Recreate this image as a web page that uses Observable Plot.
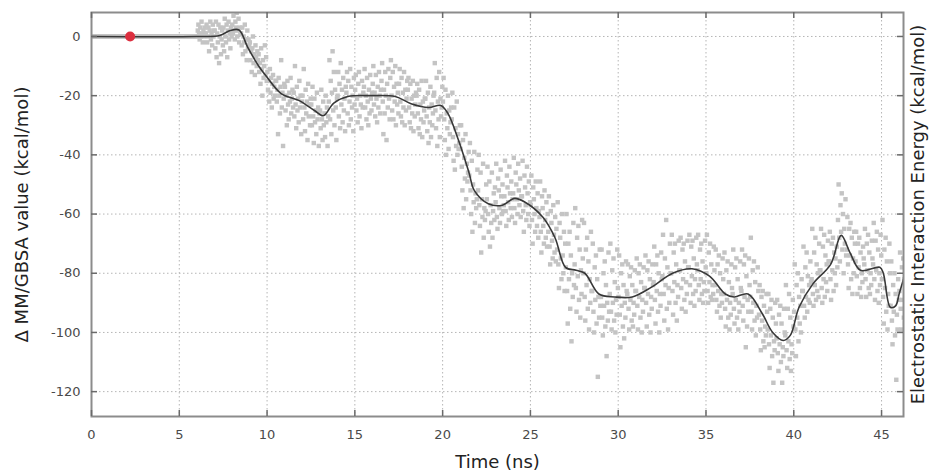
<!DOCTYPE html>
<html>
<head>
<meta charset="utf-8">
<script src="https://cdn.jsdelivr.net/npm/d3@7"></script>
<script src="https://cdn.jsdelivr.net/npm/@observablehq/plot@0.6"></script>
<style>
  html, body { margin: 0; padding: 0; background: #fff; }
</style>
</head>
<body>
<div id="chart"></div>
<script>
// ---- tick labels & titles ----
const xTicks = [0, 5, 10, 15, 20, 25, 30, 35, 40, 45];
const yTicks = [0, -20, -40, -60, -80, -100, -120];
const xTitle = "Time (ns)";
const yTitleLeft = "Δ MM/GBSA value (kcal/mol)";
const yTitleRight = "Electrostatic Interaction Energy (kcal/mol)";

// ---- scatter cloud: per 0.5 ns window ----
const cloudStart = 0;
const cloudStep = 0.5;
const cloudBins = [
  [0,0,0,0,0,0],[0,0,0,0,0,0],[0,0,0,0,0,0],[0,0,0,0,0,0],
  [0,0,0,0,0,0],[0,0,0,0,0,0],[0,0,0,0,0,0],[0,0,0,0,0,0],
  [0,0,0,0,0,0],[0,0,0,0,0,0],[0,0,0,0,0,0],[0,0,0,0,0,0],
  [0, 2, 4, 1, -1, 3, 0, 5, 1, -2, 2, 0, 3, 1],
  [1, 4, -2, 0, 3, -5, 2, 5, -1, 1, -3, 4, 0, 2],
  [2, -4, 5, -7, 1, -2, 4, -9, 0, 3, -6, -1, 2, -3],
  [3, -5, 6, 0, -2, 4, -7, 2, 5, -1, 1, -4, 3, 0],
  [4, 1, 7, 2, -1, 5, 3, 8, 0, 2, 6, -2, 3, 1],
  [1, -3, 3, -6, 0, -2, 4, -5, -1, -8, 2, -4, -1, -3],
  [-2, -8, -5, -12, -4, 0, -9, -6, -13, -3, -7, -10, -5, -8],
  [-6, -12, -9, -16, -4, -11, -20, -8, -14, -10, -3, -13, -7, -15],
  [-12, -18, -15, -22, -11, -19, -14, -24, -16, -13, -21, -17, -20, -15],
  [-15, -22, -18, -33, -14, -20, -26, -17, -8, -24, -19, -37, -21, -16],
  [-17, -25, -20, -30, -15, -23, -28, -19, -22, -14, -26, -21, -18, -24],
  [-19, -27, -10, -23, -31, -17, -25, -21, -29, -15, -24, -20, -33, -22],
  [-20, -28, -11, -24, -32, -18, -26, -22, -35, -16, -27, -23, -30, -21],
  [-23, -30, -17, -27, -36, -21, -29, -25, -33, -19, -28, -24, -37, -26],
  [-25, -31, -18, -28, -35, -22, -30, -26, -34, -20, -29, -24, -37, -27],
  [-22, -8, -28, -15, -33, -19, -5, -25, -12, -30, -18, -24, -35, -21],
  [-20, -12, -27, -16, -31, -9, -23, -18, -29, -14, -25, -21, -32, -17],
  [-19, -12, -26, -15, -30, -22, -11, -28, -17, -24, -20, -32, -14, -23],
  [-18, -13, -25, -21, -29, -16, -12, -27, -20, -23, -31, -15, -24, -19],
  [-17, -11, -24, -20, -28, -14, -22, -30, -18, -26, -13, -21, -25, -19],
  [-16, -10, -23, -19, -27, -13, -21, -29, -17, -24, -12, -20, -26, -18],
  [-15, -9, -22, -33, -18, -26, -12, -20, -35, -16, -24, -11, -21, -28],
  [-14, -8, -20, -25, -12, -28, -17, -22, -10, -30, -16, -23, -19, -26],
  [-16, -11, -22, -27, -14, -29, -19, -24, -12, -30, -18, -25, -21, -15],
  [-18, -14, -24, -29, -16, -31, -21, -26, -15, -32, -20, -27, -23, -19],
  [-20, -16, -26, -31, -18, -33, -23, -28, -15, -34, -22, -29, -25, -21],
  [-21, -15, -27, -32, -19, -36, -24, -29, -17, -34, -23, -30, -26, -20],
  [-19, -9, -25, -31, -14, -37, -22, -28, -12, -34, -21, -27, -24, -17],
  [-22, -14, -28, -35, -18, -40, -26, -31, -20, -38, -25, -33, -29, -24],
  [-28, -19, -34, -42, -24, -45, -31, -37, -22, -40, -33, -38, -36, -30],
  [-38, -30, -44, -52, -35, -58, -41, -48, -33, -55, -43, -49, -46, -39],
  [-47, -36, -52, -60, -42, -66, -50, -56, -39, -63, -53, -58, -55, -45],
  [-52, -40, -57, -64, -46, -73, -55, -61, -43, -68, -58, -62, -59, -50],
  [-55, -44, -60, -66, -49, -71, -57, -63, -46, -68, -59, -53, -62, -51],
  [-56, -43, -61, -65, -48, -52, -58, -63, -45, -54, -60, -50, -59, -57],
  [-54, -42, -59, -64, -47, -51, -56, -62, -44, -53, -58, -49, -61, -55],
  [-53, -41, -58, -63, -46, -50, -55, -60, -43, -52, -57, -48, -61, -54],
  [-54, -42, -59, -66, -47, -51, -57, -62, -44, -53, -60, -49, -64, -56],
  [-57, -47, -62, -70, -51, -55, -60, -66, -49, -58, -64, -53, -68, -59],
  [-61, -49, -66, -73, -54, -58, -64, -70, -52, -62, -68, -56, -71, -60],
  [-66, -54, -71, -77, -59, -63, -69, -75, -57, -67, -73, -61, -76, -65],
  [-72, -56, -77, -85, -63, -68, -75, -82, -60, -74, -80, -66, -86, -70],
  [-78, -60, -86, -97, -70, -82, -66, -92, -74, -103, -80, -88, -63, -84],
  [-77, -58, -85, -93, -68, -81, -64, -89, -72, -95, -79, -87, -62, -75],
  [-80, -63, -88, -96, -72, -84, -68, -92, -76, -99, -82, -90, -66, -86],
  [-86, -70, -93, -100, -78, -89, -74, -97, -82, -115, -88, -95, -72, -91],
  [-88, -72, -95, -101, -80, -91, -76, -98, -84, -108, -90, -96, -73, -93],
  [-87, -70, -93, -99, -79, -90, -75, -96, -83, -100, -89, -94, -72, -85],
  [-88, -74, -94, -105, -80, -91, -77, -98, -84, -102, -90, -95, -76, -86],
  [-87, -77, -92, -99, -81, -89, -78, -96, -84, -98, -90, -94, -79, -86],
  [-86, -75, -91, -99, -80, -88, -77, -95, -83, -100, -89, -93, -78, -85],
  [-85, -74, -90, -98, -79, -87, -76, -94, -82, -100, -88, -92, -77, -84],
  [-83, -71, -89, -97, -77, -86, -74, -93, -80, -100, -87, -91, -73, -82],
  [-81, -67, -87, -96, -75, -84, -62, -92, -78, -99, -85, -90, -70, -80],
  [-80, -67, -86, -94, -73, -83, -70, -90, -77, -96, -84, -88, -69, -79],
  [-79, -68, -85, -92, -72, -82, -70, -89, -76, -93, -83, -87, -69, -78],
  [-78, -67, -84, -90, -71, -81, -69, -87, -75, -91, -82, -86, -68, -77],
  [-79, -67, -84, -89, -72, -82, -70, -87, -76, -90, -83, -86, -69, -78],
  [-80, -67, -86, -90, -73, -83, -70, -88, -77, -89, -84, -87, -71, -79],
  [-84, -72, -89, -93, -77, -86, -74, -91, -80, -95, -87, -90, -75, -82],
  [-87, -73, -92, -98, -79, -89, -76, -95, -83, -99, -90, -94, -77, -85],
  [-87, -72, -92, -97, -78, -89, -75, -95, -82, -99, -90, -93, -76, -85],
  [-86, -72, -91, -96, -77, -88, -74, -105, -81, -98, -89, -93, -75, -84],
  [-88, -68, -93, -99, -79, -90, -76, -96, -83, -101, -91, -95, -78, -86],
  [-94, -84, -99, -106, -88, -96, -86, -103, -91, -105, -98, -101, -87, -93],
  [-99, -87, -104, -112, -92, -101, -89, -108, -95, -117, -103, -106, -90, -97],
  [-102, -89, -107, -113, -94, -104, -91, -110, -97, -117, -105, -108, -92, -100],
  [-101, -84, -106, -112, -92, -103, -87, -109, -95, -113, -104, -107, -89, -98],
  [-93, -77, -99, -108, -84, -95, -80, -103, -88, -97, -91, -100, -82, -86],
  [-86, -71, -91, -95, -78, -88, -73, -93, -81, -89, -84, -90, -76, -83],
  [-82, -65, -87, -91, -73, -84, -68, -89, -77, -86, -80, -88, -70, -79],
  [-79, -65, -85, -90, -71, -82, -67, -88, -74, -83, -77, -86, -69, -76],
  [-76, -66, -82, -89, -70, -79, -68, -86, -73, -80, -75, -84, -71, -78],
  [-62, -50, -68, -76, -57, -66, -53, -72, -60, -80, -65, -70, -55, -74],
  [-72, -61, -77, -85, -65, -74, -63, -82, -68, -87, -75, -80, -66, -70],
  [-76, -66, -81, -87, -70, -78, -68, -85, -73, -88, -80, -83, -71, -75],
  [-77, -65, -82, -88, -70, -79, -67, -85, -73, -87, -80, -84, -69, -75],
  [-77, -63, -82, -89, -69, -79, -66, -86, -72, -90, -80, -84, -67, -74],
  [-82, -62, -88, -97, -72, -85, -68, -93, -76, -99, -87, -91, -70, -80],
  [-91, -76, -96, -104, -84, -93, -80, -101, -87, -116, -94, -99, -82, -89],
  [-86, -73, -92, -99, -78, -89, -75, -95, -82, -97, -88, -93, -76, -84]
];

// ---- smoothed trend (black line) ----
const trendTime = [0, 6.0, 7.3, 7.9, 8.4, 8.9, 9.5, 10.0, 10.8, 11.8, 12.7, 13.2, 13.8, 14.6, 15.9, 17.3, 18.2, 19.2, 19.9, 20.3, 20.9, 21.5, 21.8, 22.6, 23.4, 24.1, 24.7, 25.7, 26.4, 27.0, 27.6, 28.1, 28.9, 29.8, 30.8, 31.9, 33.1, 34.2, 35.2, 36.1, 36.6, 37.4, 38.2, 38.8, 39.4, 39.8, 40.3, 41.1, 42.1, 42.7, 43.2, 43.8, 44.9, 45.1, 45.5, 45.8, 46.0, 46.25];
const trendValue = [0, 0, 0.3, 2, 2.2, -3.7, -9.8, -13.8, -19.3, -21.6, -25, -26.8, -22.5, -20.3, -20, -20.3, -22.7, -24, -23.3, -26, -35, -46, -52, -56.5, -57, -54.7, -56, -61, -68, -78, -79, -80, -87, -88, -88, -84.7, -80, -78.5, -81, -87, -88, -87, -93.6, -100, -102.7, -101, -91.5, -83.5, -77, -67.2, -73, -79, -78, -80, -91.5, -91, -87, -82];

// ---- highlighted start point ----
const markerTime = [2.2];
const markerValue = [0];

// ---- build tables ----
const cloud = cloudBins.flatMap((vals, i) =>
  vals.map((v, k) => ({ t: cloudStart + i * cloudStep + (k + 0.5) * cloudStep / vals.length, v }))
);
const trend = trendTime.map((t, i) => ({ t, v: trendValue[i] }));
const marker = markerTime.map((t, i) => ({ t, v: markerValue[i] }));

const W = 932, H = 474, mL = 91, mR = 29, mT = 12, mB = 58;
const innerW = W - mL - mR, innerH = H - mT - mB;
const tickLen = 6;
const gridStyle = { stroke: "#b5b5b5", strokeOpacity: 1, strokeDasharray: "1.5,2.5", strokeWidth: 1 };
const tickStyle = { stroke: "#6a6a6a", strokeWidth: 1.5 };

const chart = Plot.plot({
  width: W, height: H,
  marginLeft: mL, marginRight: mR, marginTop: mT, marginBottom: mB,
  style: { fontFamily: "'DejaVu Sans', sans-serif", background: "#fff", color: "#444" },
  x: { domain: [0, 46.25], label: null },
  y: { domain: [-128.4, 8.1], label: null },
  marks: [
    Plot.gridX(xTicks, gridStyle),
    Plot.gridY(yTicks, gridStyle),
    Plot.dot(cloud, { x: "t", y: "v", symbol: "square", r: 2.5, fill: "#c4c4c4", clip: true }),
    Plot.line(trend, { x: "t", y: "v", stroke: "#383838", strokeWidth: 1.6, curve: "catmull-rom", clip: true }),
    Plot.dot(marker, { x: "t", y: "v", r: 5, fill: "#dc2f3f" }),
    Plot.frame({ stroke: "#8c8c8c", strokeWidth: 2 }),
    // inward tick marks on all four sides
    Plot.tickX(xTicks, { x: d => d, insetTop: innerH - tickLen, ...tickStyle }),
    Plot.tickX(xTicks, { x: d => d, insetBottom: innerH - tickLen, ...tickStyle }),
    Plot.tickY(yTicks, { y: d => d, insetRight: innerW - tickLen, ...tickStyle }),
    Plot.tickY(yTicks, { y: d => d, insetLeft: innerW - tickLen, ...tickStyle }),
    // tick labels
    Plot.axisX(xTicks, { anchor: "bottom", tickSize: 0, tickPadding: 13, fontSize: 13, fill: "#4a4a4a", tickFormat: d => String(d), label: null }),
    Plot.axisY(yTicks, { anchor: "left", tickSize: 0, tickPadding: 11, fontSize: 13, fill: "#4a4a4a", tickFormat: d => String(d), label: null }),
    // axis titles
    Plot.text([xTitle], { text: d => d, frameAnchor: "bottom", dy: 46, textAnchor: "middle", lineAnchor: "middle", fontSize: 18, fill: "#222" }),
    Plot.text([yTitleLeft], { text: d => d, frameAnchor: "left", dx: -69, rotate: -90, textAnchor: "middle", lineAnchor: "middle", fontSize: 18, fill: "#222" }),
    Plot.text([yTitleRight], { text: d => d, frameAnchor: "right", dx: 15, rotate: -90, textAnchor: "middle", lineAnchor: "middle", fontSize: 18, fill: "#222" })
  ]
});
document.getElementById("chart").appendChild(chart);
</script>
</body>
</html>
